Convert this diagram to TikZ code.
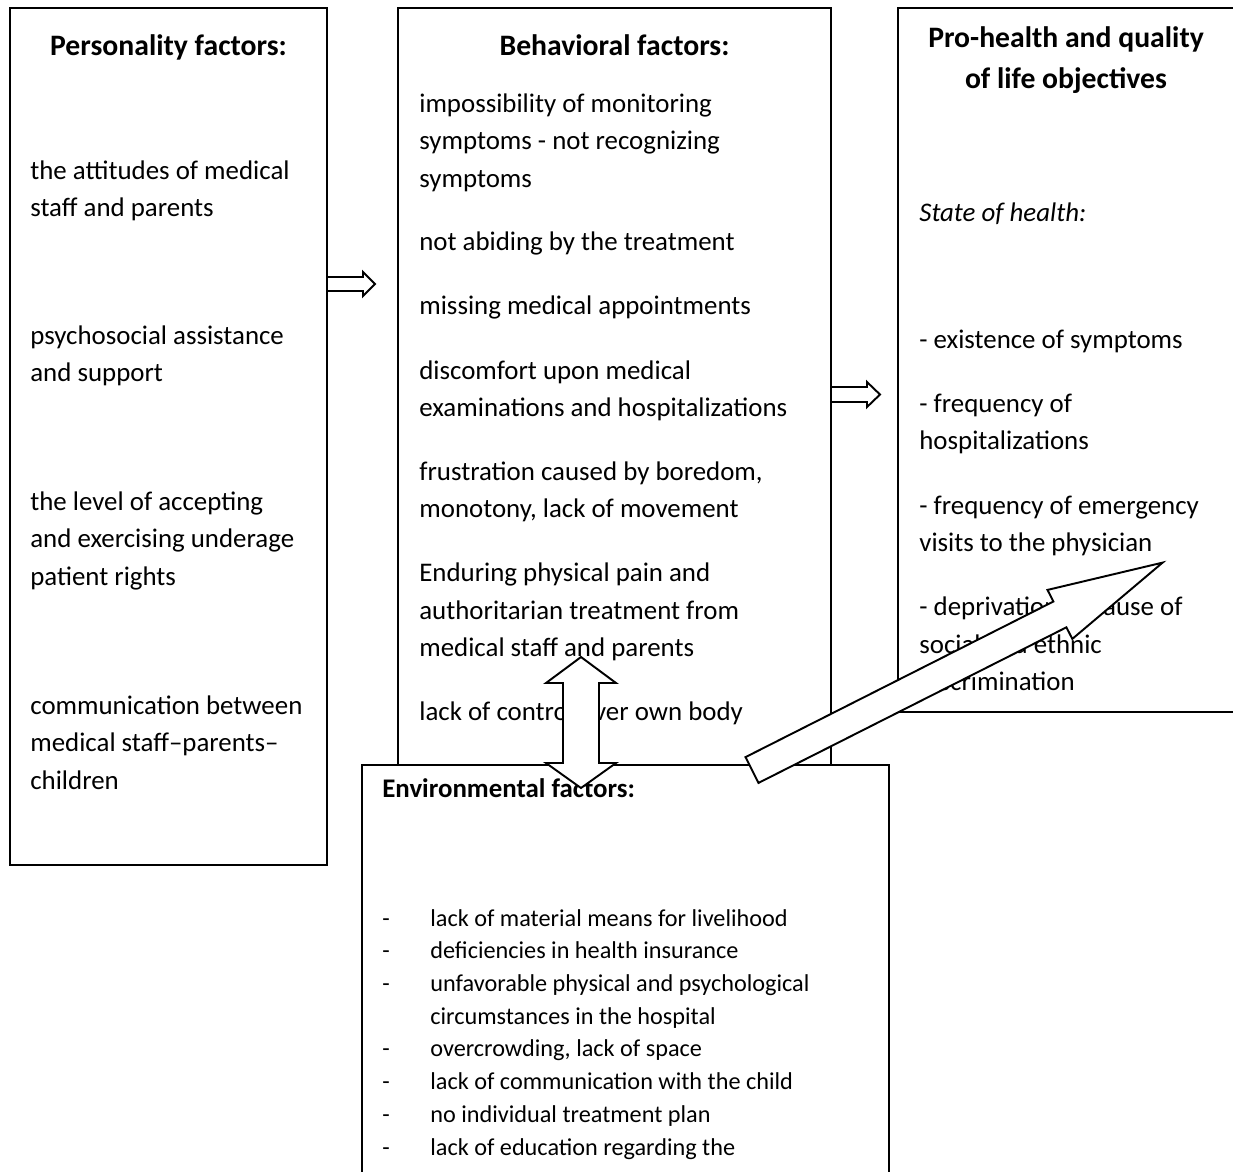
\documentclass[tikz,border=0pt]{standalone}
\usepackage{fontspec}
\setmainfont{Carlito}
\usepackage{tikz}

\tikzset{
  box/.style={draw, line width=1.1pt},
  para/.style={anchor=base west, align=left, inner sep=0pt, font=\fontsize{15.3}{21.3}\selectfont},
  heading/.style={anchor=base, align=center, inner sep=0pt, font=\bfseries\fontsize{16.9}{23.2}\selectfont},
  blockarrow/.style={draw, fill=white, line width=1.1pt, line join=miter},
}
\newcommand{\listdash}{\llap{\makebox[0.96cm][l]{-}}}

\begin{document}
\begin{tikzpicture}[x=0.02cm, y=-0.02cm]
    \useasboundingbox (0,0) rectangle (1233,1171);

    % Personality factors (nodes sit on the baseline of their last line)
    \draw[box, line width=1.6pt] (10,8) rectangle (327,865);
    \node[heading] (perstitle) at (168.5,55) {Personality factors:};
    \node[para] (pers1) at (30,216.5) {the attitudes of medical\\staff and parents};
    \node[para] (pers2) at (30,381.5) {psychosocial assistance\\and support};
    \node[para] (pers3) at (30,585) {the level of accepting\\and exercising underage\\patient rights};
    \node[para] (pers4) at (30,789) {communication between\\medical staff--parents--\\children};

    % Behavioral factors
    \draw[box] (398,8) rectangle (831,765);
    \node[heading] (behtitle) at (614.5,55) {Behavioral factors:};
    \node[para] (beh1) at (419,187) {impossibility of monitoring\\symptoms - not recognizing\\symptoms};
    \node[para] (beh2) at (419,250) {not abiding by the treatment};
    \node[para] (beh3) at (419,314) {missing medical appointments};
    \node[para] (beh4) at (419,416.5) {discomfort upon medical\\examinations and hospitalizations};
    \node[para] (beh5) at (419,517.5) {frustration caused by boredom,\\monotony, lack of movement};
    \node[para] (beh6) at (419,656.5) {Enduring physical pain and\\authoritarian treatment from\\medical staff and parents};
    \node[para] (beh7) at (419,720) {lack of control over own body};

    % Pro-health objectives
    \draw[box] (898,8) rectangle (1236,712);
    \node[heading] (goaltitle) at (1066,88) {Pro-health and quality\\of life objectives};
    \node[para] (goal0) at (919,221) {\itshape State of health:};
    \node[para] (goal1) at (919,348) {- existence of symptoms};
    \node[para] (goal2) at (919,449.5) {- frequency of\\hospitalizations};
    \node[para] (goal3) at (919,551.5) {- frequency of emergency\\visits to the physician};
    \node[para] (goal4) at (919,690.5) {- deprivation because of\\social and ethnic\\discrimination};

    % Environmental factors
    \draw[box, fill=white] (362,765) rectangle (889,1180);
    \node[heading, anchor=base west, font=\bfseries\fontsize{15.3}{18.6}\selectfont] (envtitle) at (382,797) {Environmental factors:};
    \node[para, font=\fontsize{13.8}{18.6}\selectfont] (env1) at (430,1155) {\listdash lack of material means for livelihood\\
      \listdash deficiencies in health insurance\\
      \listdash unfavorable physical and psychological\\
      circumstances in the hospital\\
      \listdash overcrowding, lack of space\\
      \listdash lack of communication with the child\\
      \listdash no individual treatment plan\\
      \listdash lack of education regarding the};

    % Arrows
    \draw[blockarrow] (327,277) -- (363,277) -- (363,272) -- (375,284) -- (363,296) -- (363,291) -- (327,291) -- cycle;
    \draw[blockarrow] (831,387) -- (867,387) -- (867,382) -- (880,394.5) -- (867,407) -- (867,402) -- (831,402) -- cycle;
    \draw[blockarrow] (581,657) -- (616,683) -- (599,683) -- (599,763) -- (616,763) -- (581,788)
      -- (546,763) -- (563,763) -- (563,683) -- (546,683) -- cycle;
    \draw[blockarrow] (745.5,757.1) -- (1053.4,601.5) -- (1047.5,589.9) -- (1162.6,562.6)
      -- (1072.3,638.9) -- (1066.4,627.3) -- (758.5,782.9) -- cycle;
\end{tikzpicture}
\end{document}
